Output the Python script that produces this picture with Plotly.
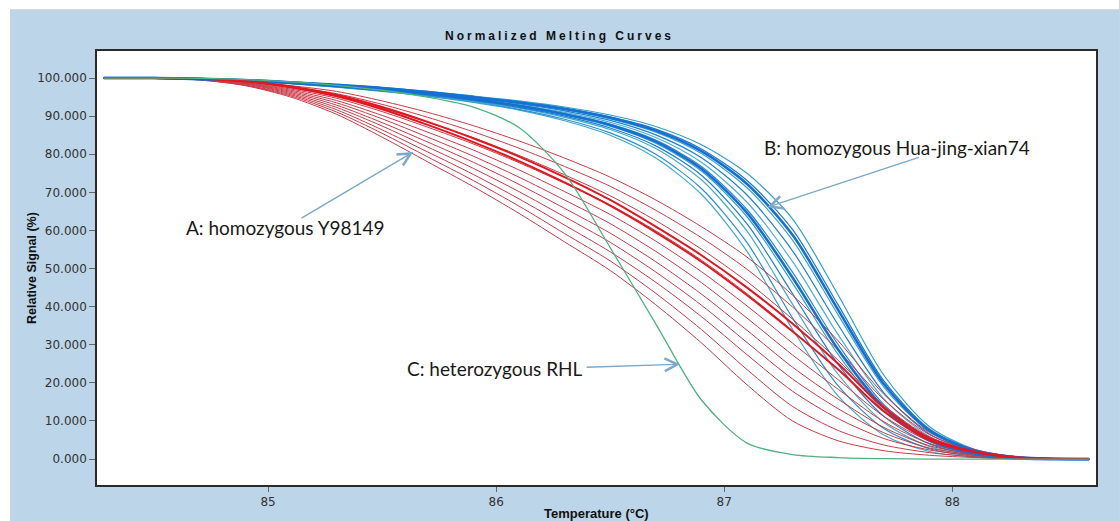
import plotly.graph_objects as go

# ---------------- data ----------------
TEMPS = [84.28, 84.5, 84.7, 84.9, 85.1, 85.3, 85.5, 85.7, 85.9, 86.1, 86.3,
         86.5, 86.7, 86.9, 87.1, 87.3, 87.5, 87.7, 87.9, 88.1, 88.3, 88.6]

RED_THIN = [
    [100, 100, 99.5, 98.0, 95.0, 90.5, 84.5, 78.0, 71.5, 64.5, 57.0, 49.5, 40.5, 30.5, 19.5, 10.0, 4.8, 2.2, 1.0, 0.4, 0.0, 0],
    [100, 100, 99.5, 98.1, 95.3, 91.1, 85.5, 79.3, 73.1, 66.4, 59.2, 52.0, 43.5, 34.0, 23.5, 13.8, 7.5, 3.7, 1.7, 0.6, 0.1, 0],
    [100, 100, 99.6, 98.2, 95.6, 91.7, 86.4, 80.6, 74.7, 68.3, 61.4, 54.4, 46.4, 37.4, 27.4, 17.8, 10.6, 5.4, 2.4, 0.9, 0.1, 0],
    [100, 100, 99.6, 98.4, 95.9, 92.3, 87.4, 81.9, 76.3, 70.2, 63.6, 56.9, 49.1, 40.4, 30.6, 21.0, 13.2, 6.9, 2.9, 1.1, 0.2, 0],
    [100, 100, 99.6, 98.5, 96.2, 92.9, 88.3, 83.2, 77.9, 72.1, 65.8, 59.3, 51.8, 43.3, 33.8, 24.1, 15.7, 8.3, 3.5, 1.3, 0.2, 0],
    [100, 100, 99.7, 98.6, 96.5, 93.5, 89.3, 84.5, 79.5, 74.0, 68.0, 61.8, 54.5, 46.3, 37.0, 27.3, 18.3, 9.8, 4.1, 1.5, 0.3, 0],
    [100, 100, 99.7, 98.7, 96.8, 94.1, 90.2, 85.8, 81.1, 75.9, 70.2, 64.2, 57.2, 49.2, 40.2, 30.4, 20.8, 11.2, 4.7, 1.7, 0.3, 0],
    [100, 100, 99.7, 98.8, 97.1, 94.7, 91.2, 87.1, 82.7, 77.8, 72.4, 66.7, 59.9, 52.2, 43.4, 33.6, 23.4, 12.7, 5.3, 1.9, 0.4, 0],
    [100, 100, 99.7, 99.0, 97.4, 95.3, 92.1, 88.4, 84.3, 79.7, 74.6, 69.1, 62.6, 55.1, 46.6, 36.7, 25.9, 14.1, 5.8, 2.1, 0.4, 0],
    [100, 100, 99.8, 99.1, 97.7, 95.9, 93.1, 89.7, 85.9, 81.6, 76.8, 71.6, 65.3, 58.1, 49.8, 39.9, 28.5, 15.6, 6.4, 2.3, 0.5, 0],
    [100, 100, 99.8, 99.2, 98.0, 96.5, 94.0, 91.0, 87.5, 83.5, 79.0, 74.0, 68.0, 61.0, 53.0, 43.0, 31.0, 17.0, 7.0, 2.5, 0.5, 0],
]

RED_THICK = [
    [100, 100, 99.8, 99.2, 97.8, 95.6, 92.4, 88.5, 84.2, 79.4, 74.0, 68.0, 61.0, 53.5, 45.0, 35.5, 25.0, 13.5, 5.5, 2.0, 0.4, 0],
    [100, 100, 99.8, 99.1, 97.6, 95.2, 91.8, 87.7, 83.2, 78.2, 72.6, 66.5, 59.5, 51.8, 43.0, 33.5, 23.5, 12.5, 5.0, 1.8, 0.3, 0],
]

BLUE_THIN = [
    [100, 100, 99.7, 99.2, 98.5, 97.6, 96.5, 95.2, 93.6, 91.6, 88.8, 85.0, 79.0, 69.5, 54.5, 34.0, 16.5, 6.3, 2.0, 0.5, 0.0, 0],
    [100, 100, 99.7, 99.2, 98.6, 97.7, 96.6, 95.3, 93.8, 91.8, 89.2, 85.6, 80.0, 71.0, 56.8, 37.0, 19.2, 8.0, 2.7, 0.7, 0.1, 0],
    [100, 100, 99.7, 99.3, 98.6, 97.7, 96.7, 95.5, 93.9, 92.1, 89.7, 86.5, 81.5, 73.3, 59.8, 40.6, 22.2, 9.6, 3.3, 0.9, 0.1, 0],
    [100, 100, 99.7, 99.3, 98.7, 97.8, 96.8, 95.6, 94.1, 92.3, 90.0, 86.9, 82.2, 74.5, 61.7, 43.4, 24.8, 11.2, 4.0, 1.1, 0.2, 0],
    [100, 100, 99.7, 99.3, 98.7, 97.9, 96.9, 95.7, 94.3, 92.6, 90.4, 87.4, 82.9, 75.6, 63.6, 46.2, 27.4, 12.7, 4.6, 1.3, 0.2, 0],
    [100, 100, 99.8, 99.4, 98.8, 98.0, 97.0, 95.9, 94.5, 92.8, 90.7, 87.9, 83.7, 76.8, 65.5, 49.0, 30.0, 14.3, 5.3, 1.5, 0.3, 0],
    [100, 100, 99.8, 99.4, 98.8, 98.0, 97.1, 96.0, 94.6, 93.0, 91.0, 88.4, 84.4, 77.9, 67.4, 51.8, 32.6, 15.8, 5.9, 1.7, 0.3, 0],
    [100, 100, 99.8, 99.4, 98.9, 98.1, 97.2, 96.1, 94.8, 93.3, 91.4, 88.9, 85.1, 79.1, 69.3, 54.6, 35.2, 17.4, 6.6, 1.9, 0.4, 0],
    [100, 100, 99.8, 99.4, 98.9, 98.2, 97.3, 96.2, 95.0, 93.5, 91.7, 89.3, 85.8, 80.2, 71.2, 57.4, 37.8, 18.9, 7.2, 2.1, 0.4, 0],
    [100, 100, 99.8, 99.5, 99.0, 98.2, 97.4, 96.4, 95.1, 93.8, 92.1, 89.8, 86.6, 81.4, 73.1, 60.2, 40.4, 20.5, 7.9, 2.3, 0.5, 0],
    [100, 100, 99.8, 99.5, 99.0, 98.3, 97.5, 96.5, 95.3, 94.0, 92.4, 90.3, 87.3, 82.5, 75.0, 63.0, 43.0, 22.0, 8.5, 2.5, 0.5, 0],
]

BLUE_THICK = [
    [100, 100, 99.7, 99.3, 98.7, 97.9, 96.9, 95.8, 94.4, 92.7, 90.5, 87.7, 83.3, 76.2, 64.6, 47.6, 28.7, 13.5, 4.9, 1.4, 0.2, 0],
    [100, 100, 99.8, 99.5, 98.9, 98.2, 97.4, 96.3, 95.0, 93.6, 91.9, 89.6, 86.2, 80.8, 72.2, 58.8, 39.1, 19.7, 7.5, 2.2, 0.4, 0],
]

GREEN = [100, 100, 99.9, 99.6, 99.0, 98.1, 96.8, 95.0, 92.4, 87.0, 75.0, 55.5, 35.5, 15.5, 4.2, 1.2, 0.4, 0.1, 0.0, 0.0, 0.0, 0]

Y_TICKS = [0, 10, 20, 30, 40, 50, 60, 70, 80, 90, 100]
X_TICKS = [85, 86, 87, 88]

LABEL_A = "A: homozygous Y98149"
LABEL_B = "B: homozygous Hua-jing-xian74"
LABEL_C = "C: heterozygous RHL"

# ---------------- figure ----------------
fig = go.Figure()

blue_cols = ["#3fa9cc", "#2b8fd0", "#45aacb", "#1f7fcf", "#3a9fc4", "#2a88d2",
             "#4ab0cf", "#2080d0", "#3ba2c6", "#1c78cc", "#33a0c8"]

def add(ys, color, width):
    fig.add_trace(go.Scatter(x=TEMPS, y=ys, mode="lines",
                             line=dict(color=color, width=width, shape="spline", smoothing=0.8),
                             hoverinfo="skip", showlegend=False))

for i, ys in enumerate(BLUE_THIN):
    add(ys, blue_cols[i % len(blue_cols)], 1.2)
for ys in RED_THIN:
    add(ys, "#c93b48", 1.0)
for ys in BLUE_THICK:
    add(ys, "#1670d2", 2.6)
for ys in RED_THICK:
    add(ys, "#e3161f", 2.0)
add(GREEN, "#4db380", 1.3)

ann_font = dict(family="Lato", size=19, color="#1a1a1a")
arrow_col = "#7ea8c9"

annotations = [
    dict(x=85.075, y=60.9, xref="x", yref="y", text=LABEL_A, showarrow=False, font=ann_font),
    dict(x=87.759, y=81.9, xref="x", yref="y", text=LABEL_B, showarrow=False, font=ann_font),
    dict(x=85.996, y=23.9, xref="x", yref="y", text=LABEL_C, showarrow=False, font=ann_font),
    # arrows
    dict(x=85.636, y=80.6, ax=85.140, ay=63.0, xref="x", yref="y", axref="x", ayref="y",
         text="", showarrow=True, arrowhead=5, arrowsize=1.8, arrowwidth=1.4, arrowcolor=arrow_col),
    dict(x=87.189, y=66.1, ax=87.860, ay=79.3, xref="x", yref="y", axref="x", ayref="y",
         text="", showarrow=True, arrowhead=5, arrowsize=1.8, arrowwidth=1.4, arrowcolor=arrow_col),
    dict(x=86.807, y=24.9, ax=86.390, ay=24.1, xref="x", yref="y", axref="x", ayref="y",
         text="", showarrow=True, arrowhead=5, arrowsize=1.8, arrowwidth=1.4, arrowcolor=arrow_col),
    # axis titles
    dict(x=0.5, y=-0.0668, xref="paper", yref="paper", text="<b>Temperature (°C)</b>",
         showarrow=False, yanchor="middle",
         font=dict(family="Liberation Sans", size=13, color="#111")),
    dict(x=-0.0651, y=0.5, xref="paper", yref="paper", text="<b>Relative Signal (%)</b>",
         showarrow=False, textangle=-90, xanchor="center", yanchor="middle",
         font=dict(family="Liberation Sans", size=12.5, color="#111")),
]

shapes = [
    dict(type="rect", xref="paper", yref="paper", x0=-0.11, x1=1.04, y0=1.0945, y1=1.13,
         fillcolor="white", line=dict(width=0), layer="below"),
    dict(type="rect", xref="paper", yref="paper", x0=-0.11, x1=-0.0871, y0=-0.1, y1=1.13,
         fillcolor="white", line=dict(width=0), layer="below"),
    dict(type="line", xref="paper", yref="paper", x0=-0.0871, x1=1.04, y0=1.0945, y1=1.0945,
         line=dict(color="#c9d0d6", width=1.5), layer="below"),
]

fig.update_layout(
    width=1119, height=521,
    margin=dict(l=97, r=23, t=51, b=36),
    paper_bgcolor="#bcd5e8",
    plot_bgcolor="white",
    showlegend=False,
    title=dict(text='<b><span style="letter-spacing:3px">Normalized Melting Curves</span></b>',
               x=0.5, xanchor="center", y=0.931, yanchor="middle",
               font=dict(family="Liberation Sans", size=12, color="#111")),
    annotations=annotations,
    shapes=shapes,
)

fig.update_xaxes(range=[84.25, 88.63], tickvals=X_TICKS, ticktext=[str(v) for v in X_TICKS],
                 ticks="outside", ticklen=5, tickcolor="#666", showgrid=False, zeroline=False,
                 showline=True, mirror=True, linecolor="#2a2a2a", linewidth=1.5,
                 tickfont=dict(family="DejaVu Sans", size=12, color="#333"))
fig.update_yaxes(range=[-6.8, 107.1], tickvals=Y_TICKS, tickformat=".3f",
                 ticks="outside", ticklen=6, tickcolor="#666", showgrid=False, zeroline=False,
                 showline=True, mirror=True, linecolor="#2a2a2a", linewidth=1.5,
                 tickfont=dict(family="DejaVu Sans", size=12, color="#333"))

fig.write_html("out.html", config={"displayModeBar": False},
               post_script="document.body.style.margin='0px';document.body.style.overflow='hidden';")
